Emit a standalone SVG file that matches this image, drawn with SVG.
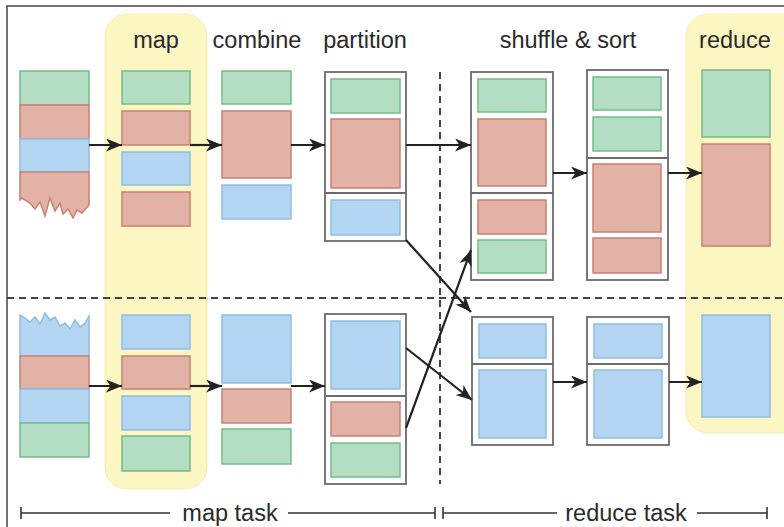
<svg xmlns="http://www.w3.org/2000/svg" width="784" height="527" viewBox="0 0 784 527">
  <defs>
    <style>
      .g { fill: #b4dec3; stroke: #72bd89; stroke-width: 1.5; }
      .r { fill: #e3b2a6; stroke: #c88170; stroke-width: 1.5; }
      .b { fill: #b3d5f1; stroke: #8fbde4; stroke-width: 1.5; }
      .box { fill: #ffffff; stroke: #6b6b6b; stroke-width: 1.8; }
      .div { stroke: #6b6b6b; stroke-width: 1.8; }
      .panel { fill: #fcf6c2; stroke: #f5edb0; stroke-width: 1; }
      .lbl { font-family: "Liberation Sans", Arial, Helvetica, sans-serif; font-size: 23.5px; fill: #2a2a2a; }
      .arrow { fill: none; stroke: #222222; stroke-width: 2.2; marker-end: url(#head); }
      .dash { fill: none; stroke: #444444; stroke-width: 2; stroke-dasharray: 7 5; }
      .scale { fill: none; stroke: #333333; stroke-width: 1.6; }
      .frame { fill: none; stroke: #444444; stroke-width: 1.5; }
    </style>
    <marker id="head" viewBox="0 0 16 13" refX="16" refY="6.5" markerWidth="16" markerHeight="13" markerUnits="userSpaceOnUse" orient="auto">
      <path d="M0,0 L16,6.5 L0,13 L4.5,6.5 Z" fill="#222222"/>
    </marker>
  </defs>

  <rect width="784" height="527" fill="#ffffff"/>
  <path class="frame" d="M7,527 V6 H784"/>

  <!-- highlighted stages -->
  <rect id="map-panel" class="panel" x="105" y="14" width="102" height="475" rx="22"/>
  <rect id="reduce-panel" class="panel" x="686" y="14" width="130" height="419" rx="22"/>

  <!-- separators -->
  <g id="separators">
    <line class="dash" x1="440" y1="72" x2="440" y2="484"/>
    <line class="dash" x1="7" y1="298" x2="784" y2="298"/>
  </g>

  <!-- stage headers -->
  <g id="headers">
    <text class="lbl" x="156" y="48" text-anchor="middle">map</text>
    <text class="lbl" x="257" y="48" text-anchor="middle">combine</text>
    <text class="lbl" x="365" y="48" text-anchor="middle">partition</text>
    <text class="lbl" x="568" y="48" text-anchor="middle">shuffle &amp; sort</text>
    <text class="lbl" x="735" y="48" text-anchor="middle">reduce</text>
  </g>

  <!-- input split, top -->
  <g id="input-top">
    <rect class="g" x="20" y="71" width="69" height="34"/>
    <rect class="r" x="20" y="105" width="69" height="34"/>
    <rect class="b" x="20" y="139" width="69" height="33"/>
    <path class="r" d="M20,172 H89 V205 L82,213 L77,210 L73,218 L68,209 L63,214 L60,203 L55,211 L50,198 L45,216 L40,202 L35,209 L30,203 L22,198 L20,200 Z"/>
  </g>

  <!-- input split, bottom -->
  <g id="input-bottom">
    <path class="b" d="M20,356 V315 L25,318 L30,322 L35,317 L40,324 L45,313 L50,320 L55,317 L60,326 L65,323 L70,329 L75,320 L80,327 L85,323 L89,316 V356 Z"/>
    <rect class="r" x="20" y="356" width="69" height="33"/>
    <rect class="b" x="20" y="389" width="69" height="34"/>
    <rect class="g" x="20" y="423" width="69" height="34"/>
  </g>

  <!-- map output -->
  <g id="map-top">
    <rect class="g" x="122" y="71" width="68" height="33"/>
    <rect class="r" x="122" y="111" width="68" height="34"/>
    <rect class="b" x="122" y="152" width="68" height="33"/>
    <rect class="r" x="122" y="192" width="68" height="34"/>
  </g>
  <g id="map-bottom">
    <rect class="b" x="122" y="315" width="68" height="34"/>
    <rect class="r" x="122" y="356" width="68" height="33"/>
    <rect class="b" x="122" y="396" width="68" height="34"/>
    <rect class="g" x="122" y="436" width="68" height="35"/>
  </g>

  <!-- combine output -->
  <g id="combine-top">
    <rect class="g" x="222" y="71" width="69" height="33"/>
    <rect class="r" x="222" y="111" width="69" height="67"/>
    <rect class="b" x="222" y="185" width="69" height="34"/>
  </g>
  <g id="combine-bottom">
    <rect class="b" x="222" y="315" width="69" height="68"/>
    <rect class="r" x="222" y="389" width="69" height="34"/>
    <rect class="g" x="222" y="429" width="69" height="35"/>
  </g>

  <!-- partitions -->
  <g id="partition-top">
    <rect class="box" x="325" y="72" width="81" height="169"/>
    <line class="div" x1="325" y1="193" x2="406" y2="193"/>
    <rect class="g" x="331" y="79" width="69" height="34"/>
    <rect class="r" x="331" y="119" width="69" height="69"/>
    <rect class="b" x="331" y="200" width="69" height="35"/>
  </g>
  <g id="partition-bottom">
    <rect class="box" x="325" y="314" width="81" height="170"/>
    <line class="div" x1="325" y1="396" x2="406" y2="396"/>
    <rect class="b" x="331" y="321" width="69" height="68"/>
    <rect class="r" x="331" y="402" width="69" height="34"/>
    <rect class="g" x="331" y="443" width="69" height="34"/>
  </g>

  <!-- shuffle: fetched partitions -->
  <g id="shuffle-top">
    <rect class="box" x="471" y="72" width="82" height="208"/>
    <line class="div" x1="471" y1="193" x2="553" y2="193"/>
    <rect class="g" x="478" y="79" width="68" height="33"/>
    <rect class="r" x="478" y="119" width="68" height="67"/>
    <rect class="r" x="478" y="200" width="68" height="34"/>
    <rect class="g" x="478" y="240" width="68" height="33"/>
  </g>
  <g id="shuffle-bottom">
    <rect class="box" x="472" y="317" width="81" height="128"/>
    <line class="div" x1="472" y1="364" x2="553" y2="364"/>
    <rect class="b" x="479" y="324" width="67" height="34"/>
    <rect class="b" x="479" y="370" width="67" height="68"/>
  </g>

  <!-- sort: grouped by key -->
  <g id="sort-top">
    <rect class="box" x="587" y="70" width="81" height="210"/>
    <line class="div" x1="587" y1="158" x2="668" y2="158"/>
    <rect class="g" x="593" y="77" width="68" height="33"/>
    <rect class="g" x="593" y="117" width="68" height="34"/>
    <rect class="r" x="593" y="164" width="68" height="68"/>
    <rect class="r" x="593" y="238" width="68" height="35"/>
  </g>
  <g id="sort-bottom">
    <rect class="box" x="587" y="317" width="82" height="128"/>
    <line class="div" x1="587" y1="364" x2="669" y2="364"/>
    <rect class="b" x="594" y="324" width="68" height="34"/>
    <rect class="b" x="594" y="370" width="68" height="68"/>
  </g>

  <!-- reduce output -->
  <g id="reduce-top">
    <rect class="g" x="702" y="70" width="68" height="67"/>
    <rect class="r" x="702" y="144" width="68" height="102"/>
  </g>
  <g id="reduce-bottom">
    <rect class="b" x="702" y="315" width="68" height="102"/>
  </g>

  <!-- data flow -->
  <g id="connectors">
    <line class="arrow" x1="89" y1="145" x2="122" y2="145"/>
    <line class="arrow" x1="190" y1="145" x2="222" y2="145"/>
    <line class="arrow" x1="291" y1="145" x2="325" y2="145"/>
    <line class="arrow" x1="406" y1="145" x2="471" y2="145"/>
    <line class="arrow" x1="553" y1="173" x2="587" y2="173"/>
    <line class="arrow" x1="668" y1="173" x2="702" y2="173"/>

    <line class="arrow" x1="89" y1="386" x2="122" y2="386"/>
    <line class="arrow" x1="190" y1="386" x2="222" y2="386"/>
    <line class="arrow" x1="291" y1="386" x2="325" y2="386"/>
    <line class="arrow" x1="553" y1="382" x2="587" y2="382"/>
    <line class="arrow" x1="669" y1="382" x2="702" y2="382"/>

    <line class="arrow" x1="406" y1="240" x2="471" y2="312"/>
    <line class="arrow" x1="406" y1="428" x2="471" y2="250"/>
    <line class="arrow" x1="406" y1="348" x2="472" y2="400"/>
  </g>

  <!-- task extents -->
  <g id="task-scale">
    <path class="scale" d="M21,507 V519 M21,513 H170"/>
    <text class="lbl" x="230" y="521" text-anchor="middle">map task</text>
    <path class="scale" d="M288,513 H435 M435,507 V519"/>
    <path class="scale" d="M443,507 V519 M443,513 H557"/>
    <text class="lbl" x="626" y="521" text-anchor="middle">reduce task</text>
    <path class="scale" d="M697,513 H767 M767,507 V519"/>
  </g>
</svg>
